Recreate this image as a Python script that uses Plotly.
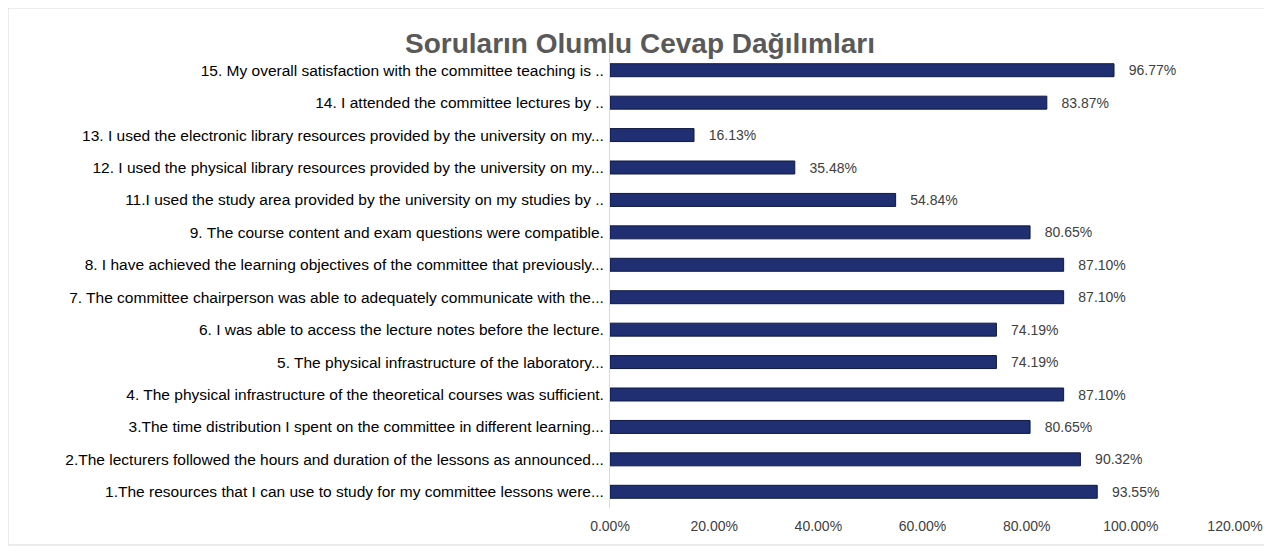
import plotly.graph_objects as go

# questions, bottom (1) to top (15)
questions = [
    "1.The resources that I can use to study for my committee lessons were...",
    "2.The lecturers followed the hours and duration of the lessons as announced...",
    "3.The time distribution I spent on the committee in different learning...",
    "4. The physical infrastructure of the theoretical courses was sufficient.",
    "5. The physical infrastructure of the laboratory...",
    "6. I was able to access the lecture notes before the lecture.",
    "7. The committee chairperson was able to adequately communicate with the...",
    "8. I have achieved the learning objectives of the committee that previously...",
    "9. The course content and exam questions were compatible.",
    "11.I used the study area provided by the university on my studies by ..",
    "12. I used the physical library resources provided by the university on my...",
    "13. I used the electronic library resources provided by the university on my...",
    "14. I attended the committee lectures by ..",
    "15. My overall satisfaction with the committee teaching is ..",
]
positive = [0.9355, 0.9032, 0.8065, 0.8710, 0.7419, 0.7419, 0.8710,
            0.8710, 0.8065, 0.5484, 0.3548, 0.1613, 0.8387, 0.9677]
tick_vals = [0, 0.2, 0.4, 0.6, 0.8, 1.0, 1.2]

FONT = "Liberation Sans Narrow, Arial Narrow, Liberation Sans, sans-serif"

fig = go.Figure()
fig.add_trace(go.Bar(
    x=positive, y=questions, orientation="h",
    marker=dict(color="#1f2f72", line=dict(color="#0e1844", width=1)),
    text=[f"   {v:.2%}" for v in positive],
    textposition="outside",
    constraintext="none",
    textfont=dict(family=FONT, size=14, color="#404040"),
    cliponaxis=False,
))

# page body adds an 8px offset, so the figure is 8px smaller than the window
fig.update_layout(
    width=1264, height=544,
    margin=dict(l=602, r=37, t=46, b=44, autoexpand=False),
    paper_bgcolor="white", plot_bgcolor="white",
    bargap=0.6,
    showlegend=False,
    font=dict(family=FONT, color="#000000"),
    title=dict(text="<b>Soruların Olumlu Cevap Dağılımları</b>",
               x=0.5, xref="container", y=0.936, yref="container",
               yanchor="middle",
               font=dict(family="Liberation Sans, Arial, sans-serif",
                         size=28, color="#595959")),
    xaxis=dict(range=[0, 1.2], tickvals=tick_vals, tickformat=".2%",
               showgrid=False, zeroline=False, showline=False,
               ticklabelstandoff=8,
               tickfont=dict(family=FONT, size=14, color="#404040")),
    yaxis=dict(showgrid=False, showline=True, linecolor="#d9d9d9",
               linewidth=1, ticks="", ticklen=0, ticklabelstandoff=2,
               tickfont=dict(family=FONT, size=15.5, color="#000000")),
    shapes=[dict(type="rect", xref="paper", yref="paper",
                 x0=-0.9632, x1=1.048, y0=-0.0815, y1=1.1013,
                 line=dict(color="#d9d9d9", width=1))],
)

fig.write_html("out.html")
